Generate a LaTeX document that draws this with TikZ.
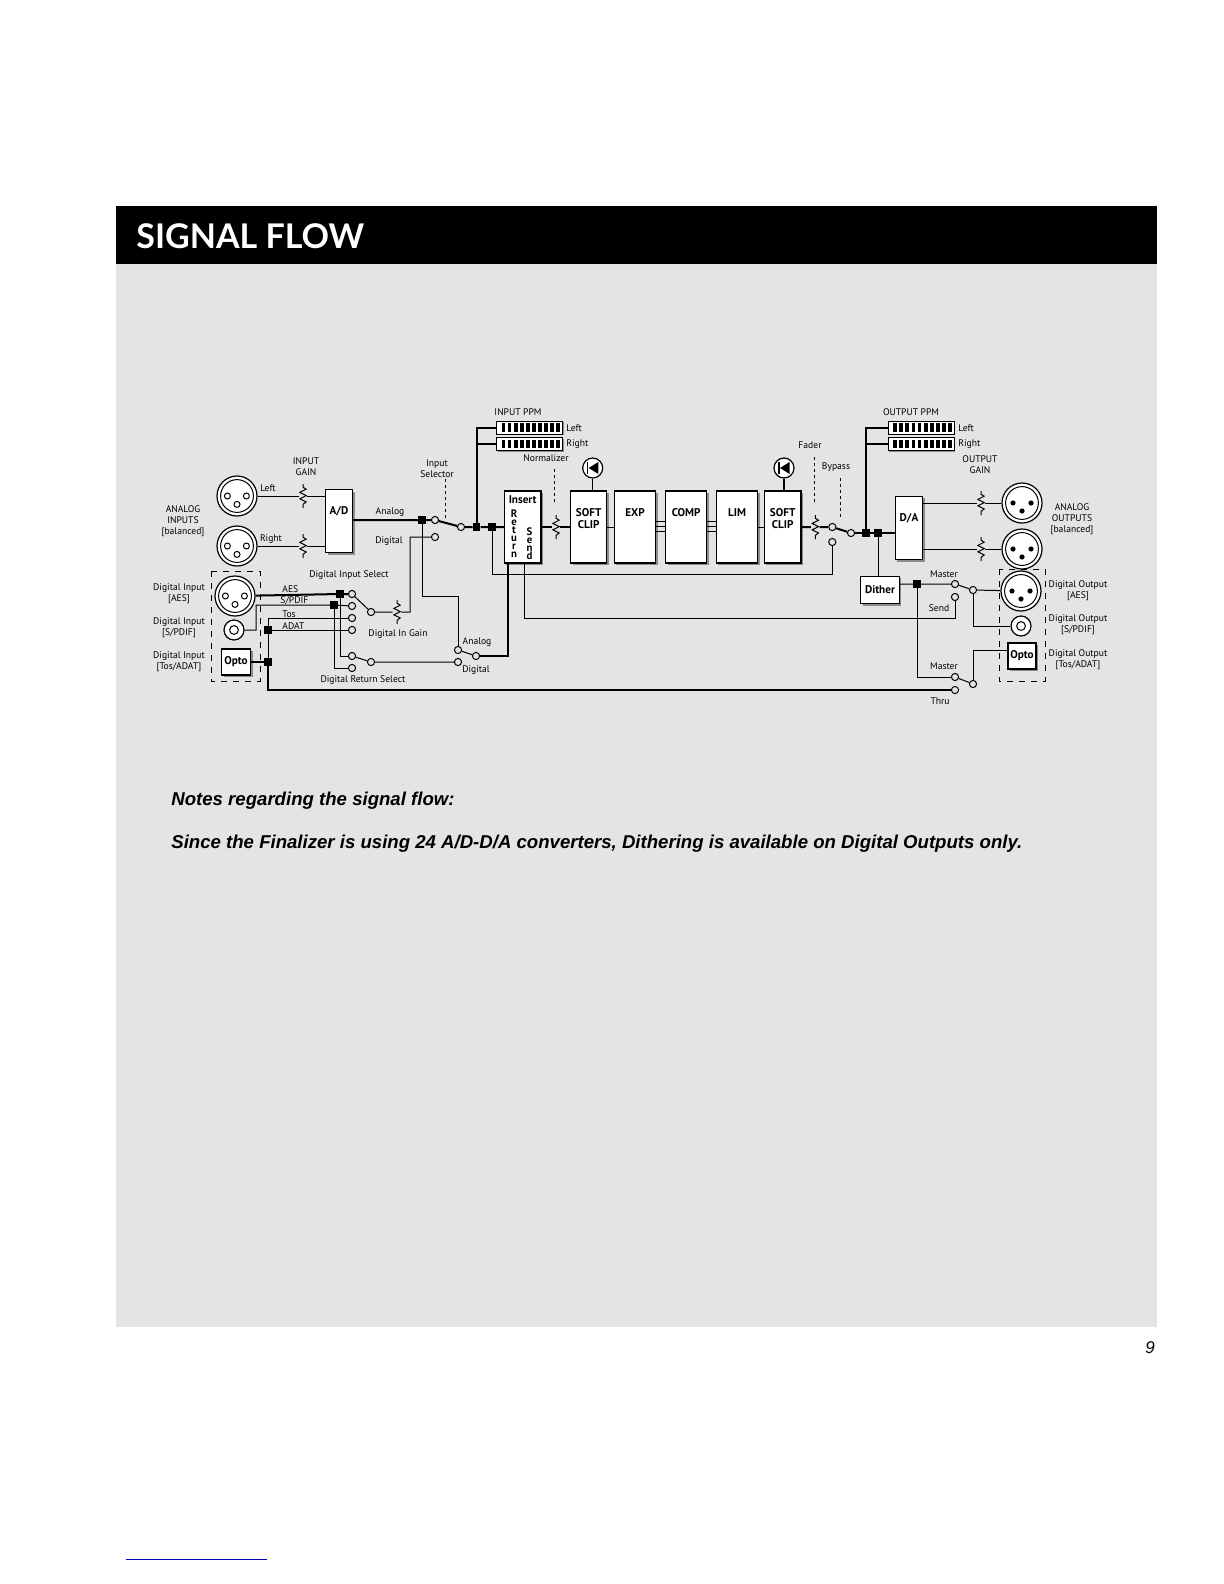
\documentclass[tikz,border=0pt]{standalone}
\usepackage{fontspec}
\setmainfont{Liberation Sans}
\newfontfamily\gill{PT Sans}
\newfontfamily\titlefont{Lato}
\usetikzlibrary{shadows,positioning}

\definecolor{panel}{HTML}{E4E4E4}
\tikzset{
  wire/.style={line width=0.5pt},
  bus/.style={line width=1pt},
  ctrl/.style={dash pattern=on 1.6pt off 1.4pt, line width=0.4pt},
  lbl/.style={font=\gill\fontsize{4.8}{5.6}\selectfont, align=center, inner sep=0pt},
  contact/.style={circle, draw, fill=panel, inner sep=0pt, minimum size=3.6pt, line width=0.5pt},
  junc/.style={fill=black, inner sep=0pt, minimum size=3.6pt},
  box/.style={draw, fill=white, line width=0.6pt, inner sep=0pt,
    drop shadow={shadow xshift=1pt, shadow yshift=-1pt, fill=black!45, opacity=1}},
  boxtxt/.style={font=\gill\bfseries\fontsize{5.6}{6}\selectfont, align=center, inner sep=0pt},
  vtxt/.style={font=\gill\bfseries\fontsize{5.4}{4}\selectfont, align=center, inner sep=0pt},
  res/.style={inner sep=0pt, minimum width=4pt, minimum height=12pt,
    path picture={\draw[line width=0.5pt, shift={(path picture bounding box.center)}]
      (0pt,6pt) -- (0pt,4.4pt) -- (1.6pt,3.4pt) -- (-1.6pt,1.8pt) -- (1.6pt,0.2pt)
      -- (-1.6pt,-1.4pt) -- (1.6pt,-3pt) -- (0pt,-4.2pt) -- (0pt,-6pt);}},
  xlrin/.style={circle, draw, fill=white, line width=0.6pt, minimum size=20pt, inner sep=0pt,
    path picture={\draw[line width=0.5pt] (path picture bounding box.center) circle (8.2pt);
      \foreach \a/\b in {-4.8/0,4.7/0,0/-4.2}
        \draw[line width=0.5pt] ([shift={(\a pt,\b pt)}]path picture bounding box.center) circle (1.5pt);}},
  xlrout/.style={circle, draw, fill=white, line width=0.6pt, minimum size=20pt, inner sep=0pt,
    path picture={\draw[line width=0.5pt] (path picture bounding box.center) circle (8.2pt);
      \foreach \a/\b in {-4.5/0,4.5/0,0/-4}
        \fill[black] ([shift={(\a pt,\b pt)}]path picture bounding box.center) circle (1.3pt);}},
  rca/.style={circle, draw, fill=white, line width=0.6pt, minimum size=10pt, inner sep=0pt,
    path picture={\draw[line width=0.5pt] (path picture bounding box.center) circle (2.2pt);}},
  knob/.style={circle, draw, fill=white, line width=0.6pt, minimum size=10pt, inner sep=0pt,
    path picture={\fill[black, shift={(path picture bounding box.center)}] (-2pt,0pt) -- (2.8pt,3pt) -- (2.8pt,-3pt) -- cycle;
      \draw[black, line width=0.7pt, shift={(path picture bounding box.center)}] (-2.6pt,-3.2pt) -- (-2.6pt,3.2pt);}},
  ppm/.style={draw, fill=white, line width=0.5pt, minimum width=33pt, minimum height=6.5pt, inner sep=0pt,
    drop shadow={shadow xshift=0.6pt, shadow yshift=-0.6pt, fill=black!45, opacity=1},
    path picture={\foreach \i in {0,...,9}
      \fill[black] ([shift={(-14pt+\i*3.05pt,-2.2pt)}]path picture bounding box.center) rectangle ++(1.9pt,4.4pt);}}
}

\begin{document}
\begin{tikzpicture}[x=0.5pt, y=-0.5pt]
% page, panel and title bar
\useasboundingbox (0,0) rectangle (1224,1584);
\fill[white] (0,0) rectangle (1224,1584);
\fill[panel] (116,264) rectangle (1157,1327);
\fill[black] (116,206) rectangle (1157,264);
\node[anchor=west, text=white, font=\titlefont\bfseries\fontsize{17}{18}\selectfont, inner sep=0pt] (title) at (136,236) {SIGNAL FLOW};

% analog inputs
\node[xlrin] (ainL) at (237,496) {};
\node[xlrin] (ainR) at (237,546) {};
\node[lbl] (tainL) at (268,488) {Left};
\node[lbl] (tainR) at (271,539) {Right};
\node[lbl] (tain) at (183,521) {ANALOG\\INPUTS\\{[balanced]}};
\node[lbl] (tgain) at (306,467) {INPUT\\GAIN};
\node[res] (gainL) at (303,496) {};
\node[res] (gainR) at (303,546) {};
\node[box, minimum width=13.5pt, minimum height=31.5pt] (ad) at (339,521) {};
\node[boxtxt, below=8.5pt of ad.north] (tad) {A/D};

% processing chain
\node[box, minimum width=18.3pt, minimum height=36pt] (ins) at (522.7,527) {};
\node[boxtxt, below=2.5pt of ins.north] (tins) {Insert};
\node[vtxt, below=9.5pt of ins.north, xshift=-4.3pt] (tret) {R\\e\\t\\u\\r\\n};
\node[vtxt, below=18.5pt of ins.north, xshift=3.4pt] (tsend) {S\\e\\n\\d};
\node[box, minimum width=18pt, minimum height=36pt] (sc1) at (588.7,527) {};
\node[boxtxt, below=9pt of sc1.north] (tsc1) {SOFT\\CLIP};
\node[box, minimum width=20.7pt, minimum height=36pt] (exp) at (635,527) {};
\node[boxtxt, below=9pt of exp.north] (texp) {EXP};
\node[box, minimum width=20.5pt, minimum height=36pt] (comp) at (686.2,527) {};
\node[boxtxt, below=9pt of comp.north] (tcomp) {COMP};
\node[box, minimum width=20.7pt, minimum height=36pt] (lim) at (737,527) {};
\node[boxtxt, below=9pt of lim.north] (tlim) {LIM};
\node[box, minimum width=18.3pt, minimum height=36pt] (sc2) at (782.7,527) {};
\node[boxtxt, below=9pt of sc2.north] (tsc2) {SOFT\\CLIP};
\node[knob] (kn1) at (592.7,468) {};
\node[knob] (kn2) at (784,468) {};
\draw[wire] (kn1) -- (kn1 |- sc1.north);
\draw[bus] (kn2) -- (kn2 |- sc2.north);

% meters
\node[ppm] (ppmInL) at (529.5,427.5) {};
\node[ppm] (ppmInR) at (529.5,444) {};
\node[lbl] (tppmIn) at (518,412) {INPUT PPM};
\node[lbl, anchor=west] (tppmInL) at (566,428) {Left};
\node[lbl, anchor=west] (tppmInR) at (566,444) {Right};
\node[ppm] (ppmOutL) at (921.2,427.5) {};
\node[ppm] (ppmOutR) at (921.2,444) {};
\node[lbl] (tppmOut) at (911,412) {OUTPUT PPM};
\node[lbl, anchor=west] (tppmOutL) at (958,428) {Left};
\node[lbl, anchor=west] (tppmOutR) at (958,444) {Right};

% input selector
\node[junc] (jAna) at (422,520) {};
\node[contact] (cAna) at (435,520) {};
\node[contact] (cDig) at (435,537) {};
\node[contact] (cSel) at (461,527) {};
\node[junc] (jPpm) at (476.5,527) {};
\node[junc] (jIns) at (492,527) {};
\node[lbl] (tAna) at (390,512) {Analog};
\node[lbl] (tDig) at (389,541) {Digital};
\node[lbl] (tSel) at (437,469) {Input\\Selector};
\draw[ctrl] (445,479) -- (445,518);
\draw[bus] (jAna -| ad.east) -- (jAna) -- (cAna) -- (cSel) -- (jPpm) -- (jIns) -- (jIns -| ins.west);
\draw[bus] (jPpm) |- (ppmInL.west);
\draw[bus] (jPpm |- ppmInR) -- (ppmInR.west);
\draw[wire] (ainL) -- (gainL) -- (gainL -| ad.west);
\draw[wire] (ainR) -- (gainR) -- (gainR -| ad.west);

% normalizer, fader, bypass
\node[res] (norm) at (556,527) {};
\node[lbl] (tnorm) at (546,458) {Normalizer};
\draw[ctrl] (554,469) -- (554,502);
\node[res] (fader) at (815.3,527) {};
\node[lbl] (tfader) at (810,445) {Fader};
\draw[ctrl] (814,457) -- (814,502);
\node[lbl] (tbyp) at (836,467) {Bypass};
\draw[ctrl] (840,478) -- (840,518);
\node[contact] (cByp) at (832.3,527) {};
\node[contact] (cByL) at (832.3,542) {};
\node[contact] (cOut) at (851,533) {};
\coordinate (byBend) at (832.3,574);
\draw[bus] (ins) -- (norm) -- (sc1);
\draw[wire] (sc1) -- (exp);
\foreach \yy in {521,526,531} {
  \draw[wire] (exp.east |- 0,\yy) -- (comp.west |- 0,\yy);
  \draw[wire] (comp.east |- 0,\yy) -- (lim.west |- 0,\yy);
}
\draw[wire] (lim) -- (sc2);
\draw[bus] (sc2) -- (fader) -- (cByp) -- (cOut);
\draw[wire] (jIns) |- (byBend) -- (cByL);

% outputs
\node[junc] (jOppm) at (866,533) {};
\node[junc] (jDith) at (878,533) {};
\node[box, minimum width=13.7pt, minimum height=31.7pt] (da) at (909,528) {};
\node[boxtxt, below=8.5pt of da.north] (tda) {D/A};
\draw[bus] (cOut) -- (jOppm) -- (jDith) -- (jDith -| da.west);
\draw[bus] (jOppm) |- (ppmOutL.west);
\draw[bus] (jOppm |- ppmOutR) -- (ppmOutR.west);
\node[res] (oGainL) at (981,503) {};
\node[res] (oGainR) at (981,549) {};
\node[xlrout] (aoutL) at (1022,503) {};
\node[xlrout] (aoutR) at (1022,549) {};
\node[lbl] (tOgain) at (980,465) {OUTPUT\\GAIN};
\node[lbl] (taout) at (1072,519) {ANALOG\\OUTPUTS\\{[balanced]}};
\draw[wire] (da.east |- oGainL) -- (oGainL) -- (aoutL);
\draw[wire] (da.east |- oGainR) -- (oGainR) -- (aoutR);

% dither and digital outputs
\node[box, minimum width=19.2pt, minimum height=13.8pt] (dith) at (880,590) {};
\node[boxtxt] (tdith) at (dith) {Dither};
\draw[wire] (jDith) -- (jDith |- dith.north);
\node[junc] (jDo) at (917,584) {};
\node[contact] (cMas) at (955,584) {};
\node[contact] (cSend) at (955,597) {};
\node[contact] (cCom) at (973,590) {};
\node[contact] (cMas2) at (955,677) {};
\node[contact] (cThru) at (955,690) {};
\node[contact] (cCom2) at (973,684) {};
\node[xlrout] (doutAes) at (1021,591) {};
\node[rca] (doutSp) at (1021,626) {};
\node[box, minimum width=14pt, minimum height=13pt] (doutOpto) at (1022,656) {};
\node[boxtxt] (tdoutOpto) at (doutOpto) {Opto};
\draw[dashed, line width=0.4pt] (999,569) rectangle (1045,681);
\node[lbl] (tMas) at (944,574) {Master};
\node[lbl] (tSend) at (939,608) {Send};
\node[lbl] (tMas2) at (944,666) {Master};
\node[lbl] (tThru) at (940,701) {Thru};
\node[lbl] (tdoAes) at (1078,591) {Digital Output\\{[AES]}};
\node[lbl] (tdoSp) at (1078,625) {Digital Output\\{[S/PDIF]}};
\node[lbl] (tdoOpto) at (1078,660) {Digital Output\\{[Tos/ADAT]}};
\draw[wire] (dith.east |- jDo) -- (jDo) -- (cMas) -- (cCom) -- (doutAes);
\draw[wire] (cCom) |- (doutSp);
\draw[wire] (jDo) |- (cMas2);
\draw[wire] (cMas2) -- (cCom2);
\draw[wire] (cCom2) |- (doutOpto.west |- 0,650);

% digital inputs
\node[xlrin] (dinAes) at (235,596) {};
\node[rca] (dinSp) at (234,630) {};
\node[box, minimum width=14.5pt, minimum height=13pt] (dinOpto) at (236,662) {};
\node[boxtxt] (tdinOpto) at (dinOpto) {Opto};
\draw[dashed, line width=0.4pt] (211,571) rectangle (260,681);
\node[lbl] (tdiAes) at (179,594) {Digital Input\\{[AES]}};
\node[lbl] (tdiSp) at (179,628) {Digital Input\\{[S/PDIF]}};
\node[lbl] (tdiOpto) at (179,662) {Digital Input\\{[Tos/ADAT]}};
\node[junc] (jAes) at (340,594) {};
\node[junc] (jSp) at (334,605) {};
\node[junc] (jAdat) at (268,630) {};
\node[junc] (jOpto) at (268,662) {};
\node[contact] (cAes) at (352,594) {};
\node[contact] (cSp) at (352,606) {};
\node[contact] (cTos) at (352,618) {};
\node[contact] (cAdat) at (352,630) {};
\node[contact] (cDis) at (371,612) {};
\node[res] (dGain) at (397,612) {};
\coordinate (dgBend) at (410,612);
\coordinate (spBend) at (256,605);
\coordinate (tosBend) at (268,618);
\node[lbl] (tDis) at (349,575) {Digital Input Select};
\node[lbl, anchor=west] (tAes) at (282,589) {AES};
\node[lbl, anchor=west] (tSp) at (280,601) {S/PDIF};
\node[lbl, anchor=west] (tTos) at (282,614) {Tos};
\node[lbl, anchor=west] (tAdat) at (282,626) {ADAT};
\node[lbl] (tdGain) at (398,634) {Digital In Gain};
\draw[bus] (dinAes) -- (jAes) -- (cAes);
\draw[wire] (dinSp) -| (spBend) -- (jSp) -- (cSp);
\draw[wire] (cTos) -- (tosBend) -- (jAdat) -- (jOpto);
\draw[wire] (jAdat) -- (cAdat);
\draw[bus] (dinOpto) -- (jOpto);
\draw[wire] (cAes) -- (cDis) -- (dGain) -- (dgBend) |- (cDig);

% digital return select
\node[contact] (cRa) at (352,656) {};
\node[contact] (cRd) at (352,668) {};
\node[contact] (cRc) at (371,662) {};
\node[contact] (cRetA) at (458,650) {};
\node[contact] (cRetD) at (458,662) {};
\node[contact] (cRetC) at (476,656) {};
\coordinate (anaBend) at (422,596);
\node[lbl] (tRsel) at (363,680) {Digital Return Select};
\node[lbl] (tRa) at (477,642) {Analog};
\node[lbl] (tRd) at (476,670) {Digital};
\draw[wire] (jAes) |- (cRa);
\draw[wire] (jSp) |- (cRd);
\draw[wire] (cRa) -- (cRc) -- (cRetD);
\draw[wire] (jAna) -- (anaBend) -| (cRetA);
\draw[wire] (cRetA) -- (cRetC);
\draw[bus] (cRetC) -| (ins.south -| 508,0);
\draw[wire] (ins.south -| 524,0) |- (cSend |- 0,618) -- (cSend);
\draw[bus] (jOpto) -- (268,690) -- (cThru);

% notes
\node[anchor=base west, font=\bfseries\itshape\fontsize{9.3}{11}\selectfont, inner sep=0pt] (note1) at (171,805) {Notes regarding the signal flow:};
\node[anchor=base west, font=\bfseries\itshape\fontsize{9.3}{11}\selectfont, inner sep=0pt] (note2) at (171,848) {Since the Finalizer is using 24 A/D-D/A converters, Dithering is available on Digital Outputs only.};
\node[font=\itshape\fontsize{8.5}{10}\selectfont, inner sep=0pt] (pageno) at (1150,1348) {9};
\draw[blue!70!black, line width=0.5pt] (126,1559) -- (267,1559);
\end{tikzpicture}
\end{document}
